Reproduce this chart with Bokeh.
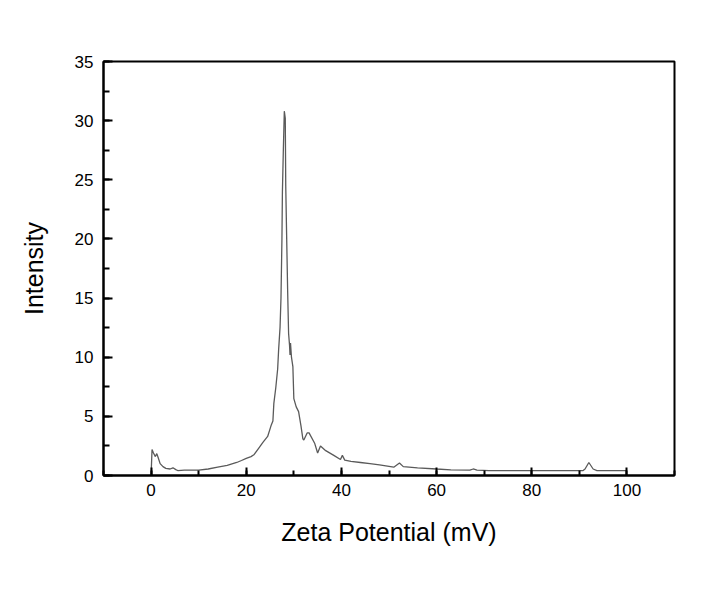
from bokeh.plotting import figure
from bokeh.models import SingleIntervalTicker, Range1d
from bokeh.embed import file_html
from bokeh.resources import INLINE

# Zeta potential distribution
zeta_mv = [0, 0.2, 0.5, 0.9, 1.2, 1.5, 1.9, 2.5, 3.1, 4.0, 4.6, 5.2, 5.6, 7, 8, 10,
           12, 14, 16, 18, 19, 20, 21, 21.6, 22.6, 23.5, 24.5, 25.2, 25.6, 25.8,
           26.2, 26.6, 26.8, 27.1, 27.3, 27.5, 27.6, 27.8, 28.0, 28.2, 28.3, 28.5,
           28.7, 28.9, 29.1, 29.2, 29.3, 29.5, 29.8, 30.0, 30.5, 31.0, 31.5, 31.9,
           32.1, 32.8, 33.2, 34.4, 35.0, 35.6, 36.7, 38.4, 39.8, 40.2, 40.7, 42,
           44, 46, 48, 51, 52.2, 53, 56, 60, 63, 67, 67.7, 68.5, 71, 80, 90.8,
           91.2, 92.0, 92.9, 93.7, 100]
intensity = [0, 2.2, 1.9, 1.6, 1.85, 1.5, 1.0, 0.75, 0.6, 0.55, 0.65, 0.5, 0.42, 0.45, 0.45, 0.45,
             0.55, 0.7, 0.85, 1.1, 1.27, 1.45, 1.6, 1.75, 2.3, 2.8, 3.3, 4.2, 4.6, 6.1,
             7.4, 9.0, 10.6, 12.5, 15.0, 20.0, 24.0, 27.6, 30.8, 30.2, 24.5, 20.0,
             15.6, 12.0, 11.0, 10.2, 11.2, 10.0, 9.2, 6.5, 5.8, 5.4, 4.2, 3.1,
             3.0, 3.6, 3.6, 2.7, 1.9, 2.5, 2.1, 1.7, 1.35, 1.7, 1.3, 1.2,
             1.1, 1.0, 0.9, 0.7, 1.05, 0.75, 0.65, 0.55, 0.48, 0.45, 0.55, 0.45, 0.42, 0.42, 0.42,
             0.55, 1.1, 0.55, 0.42, 0.42]

x_label = "Zeta Potential (mV)"
y_label = "Intensity"

p = figure(width=697, height=588, output_backend="svg", toolbar_location=None,
           x_range=Range1d(-10, 110), y_range=Range1d(0, 35),
           min_border_left=103, min_border_top=61, min_border_right=23, min_border_bottom=113)

p.line(zeta_mv, intensity, line_color="#5a5a5a", line_width=1.3)

p.grid.visible = False
p.outline_line_color = "black"
p.outline_line_width = 2
p.background_fill_color = "white"
p.border_fill_color = "white"

font = "Liberation Sans"
p.xaxis.ticker = SingleIntervalTicker(interval=20, num_minor_ticks=2)
p.yaxis.ticker = SingleIntervalTicker(interval=5, num_minor_ticks=2)

for ax in (p.xaxis[0], p.yaxis[0]):
    ax.axis_line_color = "black"
    ax.axis_line_width = 2
    ax.major_tick_out = 0
    ax.minor_tick_out = 0
    ax.major_tick_line_width = 2
    ax.minor_tick_line_width = 2
    ax.major_tick_line_color = "black"
    ax.minor_tick_line_color = "black"
    ax.major_label_text_font = font
    ax.major_label_text_font_size = "17px"
    ax.major_label_text_color = "black"
    ax.axis_label_text_font = font
    ax.axis_label_text_font_size = "25px"
    ax.axis_label_text_font_style = "normal"
    ax.axis_label_text_color = "black"

p.xaxis.major_tick_in = 8
p.xaxis.minor_tick_in = 5
p.yaxis.major_tick_in = 9
p.yaxis.minor_tick_in = 6
p.xaxis.major_label_standoff = 8
p.yaxis.major_label_standoff = 10
p.xaxis.axis_label = x_label
p.yaxis.axis_label = y_label
p.xaxis.axis_label_standoff = 19
p.yaxis.axis_label_standoff = 24

open("out.html", "w").write(file_html(p, INLINE))
